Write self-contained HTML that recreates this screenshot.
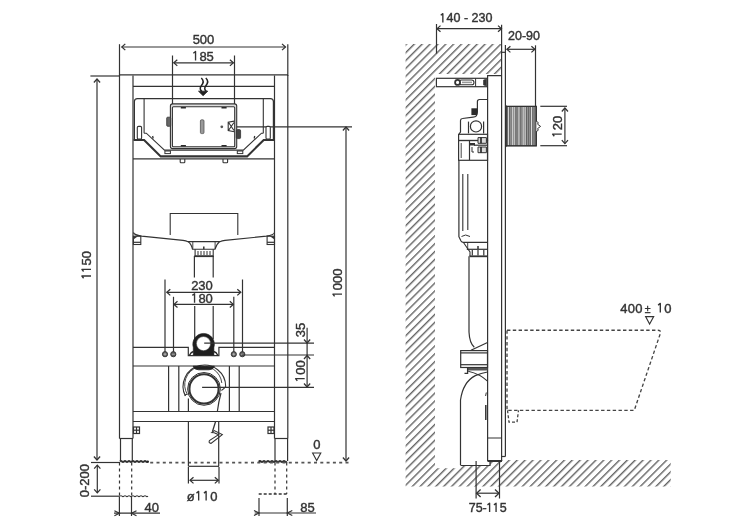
<!DOCTYPE html>
<html><head><meta charset="utf-8">
<style>
html,body{margin:0;padding:0;background:#fff;}
body{width:750px;height:530px;overflow:hidden;}
svg{display:block;will-change:transform;}
.o{fill-opacity:0;stroke-opacity:0;}
text{font-family:"Liberation Sans",sans-serif;fill:#333;stroke:#333;stroke-width:0.4px;}
</style></head><body>
<svg width="750" height="530" viewBox="0 0 750 530">
<defs>
<pattern id="hatch" patternUnits="userSpaceOnUse" width="5.560" height="10" patternTransform="rotate(45)">
<rect x="1.07" y="0" width="1.2" height="10" fill="#4a4a4a"/>
</pattern>
<marker id="ar" viewBox="-1 -1 7 9" refX="4" refY="3.5" markerWidth="7" markerHeight="9" orient="auto-start-reverse" markerUnits="userSpaceOnUse">
<path d="M0.5,0.4 L4,3.5 L0.5,6.6" fill="none" stroke="#333" stroke-width="1.25"/>
</marker>
<marker id="arL" viewBox="-1 -1 7 10" refX="4.5" refY="4" markerWidth="7" markerHeight="10" orient="auto-start-reverse" markerUnits="userSpaceOnUse">
<path d="M0.5,0.3 L4.5,4 L0.5,7.7" fill="none" stroke="#333" stroke-width="1.3"/>
</marker>
</defs>
<g fill="none" stroke="#333" stroke-width="1.2">
<!-- ===== LEFT FRONT VIEW ===== -->
<!-- 500 dim -->
<line x1="119.5" y1="44.2" x2="119.5" y2="76"/>
<line x1="287.8" y1="44.2" x2="287.8" y2="76"/>
<line x1="121.8" y1="47" x2="285.5" y2="47" marker-start="url(#ar)" marker-end="url(#ar)"/>
<!-- 185 dim -->
<line x1="172.5" y1="55.5" x2="172.5" y2="104"/>
<line x1="234.5" y1="55.5" x2="234.5" y2="104"/>
<line x1="173.8" y1="62.8" x2="233.4" y2="62.8" marker-start="url(#ar)" marker-end="url(#ar)"/>
<!-- frame -->
<line x1="119.5" y1="74.8" x2="288" y2="74.8"/>
<line x1="133" y1="86.3" x2="275" y2="86.3"/>
<line x1="119.5" y1="75" x2="119.5" y2="438.5" stroke-width="1.2"/>
<line x1="133" y1="75.5" x2="133" y2="438.5"/>
<line x1="274.5" y1="75.5" x2="274.5" y2="438.5"/>
<line x1="287.8" y1="75" x2="287.8" y2="438.5" stroke-width="1.2"/>
<line x1="119.5" y1="438.5" x2="133" y2="438.5"/>
<line x1="274.5" y1="438.5" x2="288" y2="438.5"/>
<!-- legs -->
<line x1="120.5" y1="438.5" x2="120.5" y2="461"/>
<line x1="132.3" y1="438.5" x2="132.3" y2="461"/>
<line x1="275" y1="438.5" x2="275" y2="461"/>
<line x1="287.6" y1="438.5" x2="287.6" y2="461"/>
<!-- foot plates -->
<path d="M120.0,461.6 q1.00,-0.90 2.00,0 q1.00,0.90 2.00,0 q1.00,-0.90 2.00,0 q1.00,0.90 2.00,0 q1.00,-0.90 2.00,0 q1.00,0.90 2.00,0 q1.00,-0.90 2.00,0 q1.00,0.90 2.00,0 q1.00,-0.90 2.00,0 q1.00,0.90 2.00,0 q1.00,-0.90 2.00,0 q1.00,0.90 2.00,0 q1.00,-0.90 2.00,0 q1.00,0.90 2.00,0" stroke-width="2"/><circle cx="147.8" cy="461.6" r="1.2" fill="#222" stroke="none"/>
<path d="M259.0,461.6 q1.00,-0.90 2.00,0 q1.00,0.90 2.00,0 q1.00,-0.90 2.00,0 q1.00,0.90 2.00,0 q1.00,-0.90 2.00,0 q1.00,0.90 2.00,0 q1.00,-0.90 2.00,0 q1.00,0.90 2.00,0 q1.00,-0.90 2.00,0 q1.00,0.90 2.00,0 q1.00,-0.90 2.00,0 q1.00,0.90 2.00,0 q1.00,-0.90 2.00,0 q1.00,0.90 2.00,0" stroke-width="2"/><circle cx="259.5" cy="461.6" r="1.1" fill="#222" stroke="none"/>
<!-- bottom crossbars -->
<line x1="133" y1="411.5" x2="274.5" y2="411.5"/>
<line x1="133" y1="421.5" x2="274.5" y2="421.5"/>
<!-- bolts -->
<rect x="133.5" y="427" width="6" height="6.5"/>
<line x1="133.5" y1="430.2" x2="139.5" y2="430.2"/>
<line x1="136.5" y1="427" x2="136.5" y2="433.5"/>
<rect x="268" y="427" width="6" height="6.5"/>
<line x1="268" y1="430.2" x2="274" y2="430.2"/>
<line x1="271" y1="427" x2="271" y2="433.5"/>
<!-- 1150 dim -->
<line x1="90.4" y1="76" x2="119.5" y2="76"/>
<line x1="97" y1="79" x2="97" y2="460" marker-start="url(#ar)" marker-end="url(#ar)"/>
<!-- floor line -->
<line x1="91" y1="462.5" x2="120" y2="462.5"/>
<line x1="150.2" y1="462.6" x2="350" y2="462.6" stroke-dasharray="3,3.3" stroke="#555" stroke-width="1.6"/>
<!-- 1000 dim -->
<line x1="228" y1="126.8" x2="352" y2="126.8"/>
<line x1="346" y1="127" x2="346" y2="461" marker-start="url(#ar)" marker-end="url(#ar)"/>
<!-- 0 level triangle -->
<path d="M312.6,453 L320.8,453 L316.7,460.5 Z" stroke-width="1.1"/>
<!-- 0-200 dim -->
<line x1="91" y1="496.2" x2="120" y2="496.2"/>
<path d="M120.0,496.2 q1.00,-0.90 2.00,0 q1.00,0.90 2.00,0 q1.00,-0.90 2.00,0 q1.00,0.90 2.00,0 q1.00,-0.90 2.00,0 q1.00,0.90 2.00,0 q1.00,-0.90 2.00,0 q1.00,0.90 2.00,0 q1.00,-0.90 2.00,0 q1.00,0.90 2.00,0 q1.00,-0.90 2.00,0 q1.00,0.90 2.00,0 q1.00,-0.90 2.00,0 q1.00,0.90 2.00,0" stroke-width="1.1"/>
<line x1="97.3" y1="465.2" x2="97.3" y2="492.8" marker-start="url(#ar)" marker-end="url(#ar)"/>
<line x1="119.5" y1="462.5" x2="119.5" y2="496" stroke-dasharray="3,3"/>
<line x1="131.7" y1="462.5" x2="131.7" y2="496" stroke-dasharray="3,3"/>
<!-- 40 dim -->
<line x1="119.4" y1="497" x2="119.4" y2="516"/>
<line x1="131.5" y1="497" x2="131.5" y2="516"/>
<line x1="114" y1="513.2" x2="160" y2="513.2"/>
<path d="M114.4,510.7 L119.4,513.2 L114.4,515.7" />
<path d="M136.5,510.7 L131.5,513.2 L136.5,515.7" />
<!-- 85 dim -->
<line x1="275" y1="462.5" x2="275" y2="494" stroke-dasharray="3,3"/>
<line x1="286.7" y1="462.5" x2="286.7" y2="494" stroke-dasharray="3,3"/>
<line x1="258.7" y1="494" x2="287" y2="494" stroke-dasharray="3,2" stroke-width="1.5"/>
<line x1="259" y1="498" x2="259" y2="516"/>
<line x1="287.3" y1="498" x2="287.3" y2="516"/>
<line x1="254.7" y1="513" x2="316" y2="513"/>
<path d="M254,510.5 L259,513 L254,515.5" />
<path d="M292.3,510.5 L287.3,513 L292.3,515.5" />
<!-- pipe 110 -->
<line x1="188.4" y1="466.3" x2="219" y2="466.3"/>
<line x1="188.4" y1="467" x2="188.4" y2="483.4"/>
<line x1="219" y1="467" x2="219" y2="483.4"/>
<line x1="190" y1="480.3" x2="218.3" y2="480.3" marker-start="url(#ar)" marker-end="url(#ar)"/>
<!-- hook -->
<path d="M215.6,421.5 L212.4,431.8" stroke-width="1.3"/>
<path d="M211.8,432.6 L214.2,430.6 L222.3,434.6 L211,443.4 Q208.3,443.2 209.4,440.6 L218.6,434.7 L214.2,432.7 Z" stroke-width="1.1" fill="#fff"/>
<!-- tank -->
<path d="M134.4,140 L134.4,101.6 Q134.4,98.6 137.4,98.6 L270.4,98.6 Q273.4,98.6 273.4,101.6 L273.4,140" stroke-width="1.2"/>
<line x1="144.1" y1="98.6" x2="144.1" y2="133.2" stroke-width="1.1"/>
<line x1="263.3" y1="98.6" x2="263.3" y2="133.2" stroke-width="1.1"/>
<path d="M144.1,133.2 L146.3,133.2 L164.5,150.1 L243.3,150.1 L261.5,133.2 L263.3,133.2" stroke-width="1.1" fill="#fff"/>
<path d="M133.5,140 L144.1,140 L160.7,156.4 L247.1,156.4 L263.7,140 L274,140" stroke-width="2.1"/>
<rect x="137.3" y="126.4" width="4.3" height="12.7" rx="1.2" stroke-width="1.1" fill="#fff"/>
<rect x="266" y="126.4" width="4.3" height="12.7" rx="1.2" stroke-width="1.1" fill="#fff"/>
<rect x="164.9" y="151" width="5.5" height="2.6" stroke-width="1"/>
<rect x="237.3" y="151" width="5.5" height="2.6" stroke-width="1"/>
<path d="M152.6,136 L153.2,138.5 M254.7,136 L254.2,138.5" stroke-width="1.3"/>
<line x1="133" y1="158.9" x2="274.5" y2="158.9"/>
<path d="M180.2,159 V162 Q180.2,162.8 181,162.8 H184 Q184.8,162.8 184.8,162 V159" stroke-width="1.1"/>
<path d="M223,159 V162 Q223,162.8 223.8,162.8 H226.8 Q227.6,162.8 227.6,162 V159" stroke-width="1.1"/>
<!-- plate -->
<rect x="170.4" y="103.9" width="66.3" height="44.7" rx="2.2" fill="#dedede" stroke-width="1.1"/>
<rect x="172.4" y="106.8" width="62.3" height="39.9" rx="1" fill="#fff" stroke-width="1.1"/>
<rect x="180.8" y="107" width="5.1" height="1.5" fill="#2a2a2a" stroke="none"/>
<rect x="221.5" y="107" width="5.1" height="1.5" fill="#2a2a2a" stroke="none"/>
<rect x="180.8" y="145" width="5.1" height="1.5" fill="#2a2a2a" stroke="none"/>
<rect x="221.5" y="145" width="5.1" height="1.5" fill="#2a2a2a" stroke="none"/>
<rect x="200.4" y="119.8" width="3.6" height="13.8" rx="1.2" fill="#999" stroke="#555" stroke-width="0.8"/>
<circle cx="221.8" cy="126.8" r="1.4" fill="#555" stroke="none"/>
<path d="M234.3,121.1 L228.2,122.1 L228.2,130.6 L234.3,131.7 M228.6,122.5 L234,130.5 M228.6,130.2 L234,122.5" stroke-width="1.1"/>
<rect x="166.7" y="117.2" width="4" height="9.1" rx="1" fill="#666" stroke="#333" stroke-width="0.8"/>
<rect x="236.3" y="129.6" width="4.3" height="9" rx="1.2" fill="#444" stroke="#333" stroke-width="0.8"/>
<!-- lower tank -->
<path d="M170.2,235.1 L170.2,213.5 L237.8,213.5 L237.8,235.1" stroke-width="1.1"/>
<path d="M133.4,232.5 Q134,235 141.6,236.2 L183,240.3 Q186,240.7 188,241.7 L219.8,241.7 Q222,240.7 225,240.3 L266.4,236.2 Q274,235 274.5,232.5" stroke-width="1.2"/>
<rect x="133.4" y="236.2" width="7.4" height="8.3" stroke-width="1.1"/>
<line x1="133.4" y1="242.3" x2="140.8" y2="242.3"/>
<path d="M133.4,236.2 L138,236.2 L133.4,239.5 Z" fill="#333" stroke="none"/>
<rect x="267.1" y="236.2" width="7.4" height="8.3" stroke-width="1.1"/>
<line x1="267.1" y1="242.3" x2="274.5" y2="242.3"/>
<path d="M274.5,236.2 L269.9,236.2 L274.5,239.5 Z" fill="#333" stroke="none"/>
<path d="M188.3,241.7 Q191.5,244 192.5,249.3 L215,249.3 Q216.5,244 219.5,241.7" stroke-width="1.1"/>
<path d="M192.8,242 L192.8,248.9 M215.1,242 L215.1,248.9" stroke-width="0.9"/>
<line x1="203.8" y1="246.5" x2="203.8" y2="249.3" stroke-width="1.5"/>
<path d="M195.1,249.3 L195.1,256.4 L213.2,256.4 L213.2,249.3" stroke-width="1.1"/>
<path d="M198,251 V255 M201,251 V255 M204,251 V255 M207,251 V255 M210,251 V255" stroke-width="1"/>
<line x1="194.4" y1="256.2" x2="213.4" y2="256.2" stroke-width="1.8"/>
<line x1="194.4" y1="256" x2="194.4" y2="277.6"/>
<line x1="213.2" y1="256" x2="213.2" y2="277.6"/>
<line x1="194.7" y1="306" x2="194.7" y2="339"/>
<line x1="213.2" y1="306" x2="213.2" y2="339"/>
<!-- 230/180 dims -->
<line x1="165" y1="279.5" x2="165" y2="352"/>
<line x1="242.5" y1="279.5" x2="242.5" y2="352"/>
<line x1="166.8" y1="292.3" x2="240.8" y2="292.3" marker-start="url(#ar)" marker-end="url(#ar)"/>
<line x1="173.5" y1="296.8" x2="173.5" y2="352"/>
<line x1="233.8" y1="296.8" x2="233.8" y2="352"/>
<line x1="174" y1="304.4" x2="233.3" y2="304.4" marker-start="url(#ar)" marker-end="url(#ar)"/>
<!-- crossbar -->
<path d="M133,347.3 L188.3,347.3 L188.3,355.6 L218.9,355.6 L218.9,347.3 L274.5,347.3"/>
<line x1="133" y1="366" x2="274.5" y2="366"/>
<g fill="#5a5a5a" stroke="#333" stroke-width="0.9">
<circle cx="165" cy="354.2" r="2.6"/>
<circle cx="173.3" cy="354.2" r="2.6"/>
<circle cx="233.8" cy="354.2" r="2.6"/>
<circle cx="242.3" cy="354.2" r="2.6"/>
</g>
<g stroke="#ccc" stroke-width="0.7">
<path d="M163.5,354.2 H166.5 M165,352.7 V355.7 M171.8,354.2 H174.8 M232.3,354.2 H235.3 M233.8,352.7 V355.7 M240.8,354.2 H243.8"/>
</g>
<!-- clamp -->
<path d="M193.3,355 L193.3,347.5 A10.8,10.8 0 1 1 213.9,347.5 L213.9,355 Z" fill="#1e1e1e" stroke="#1e1e1e" stroke-width="0.6"/>
<path d="M189.5,355.2 Q191,352 193.5,351.5 M217.8,355.2 Q216.3,352 213.7,351.5" stroke="#222" stroke-width="1.3"/>
<circle cx="203.5" cy="343.6" r="7.1" fill="#fff" stroke="#444" stroke-width="0.6"/>
<line x1="204.2" y1="343.1" x2="314" y2="343.1"/>
<line x1="242.3" y1="355" x2="314" y2="355"/>
<!-- vertical lines lower -->
<line x1="168.6" y1="366" x2="168.6" y2="411.5"/>
<line x1="178.8" y1="366" x2="178.8" y2="411.5"/>
<line x1="229.4" y1="366" x2="229.4" y2="411.5"/>
<line x1="239.2" y1="366" x2="239.2" y2="411.5"/>
<!-- pipe ring -->
<path d="M188.4,398.5 L188.4,411.8 M188.4,421.5 L188.4,466.3" />
<path d="M221,393 Q218.5,402 217.3,411.8 M218.7,421.5 L218.7,466.3"/>
<path d="M185.4,396 A21.3,21.3 0 1 1 225.7,386.5 Q224,389 221.4,390.5" stroke-width="1.1" fill="#fff"/>
<path d="M187.4,394.5 A18.6,18.6 0 1 1 221.8,383" stroke-width="0.9"/>
<path d="M185.4,396 Q184,394 187.4,394.5" stroke-width="1"/>
<circle cx="204" cy="388.9" r="16.4" stroke-width="1" fill="#fff"/>
<circle cx="204" cy="388.9" r="14.6" stroke-width="2.1"/>
<path d="M193.1,366.2 L214.4,366.2 Q213,369.8 209,369.8 L198.5,369.8 Q194.5,369.8 193.1,366.2 Z" fill="#222" stroke="#222" stroke-width="0.8"/>
<line x1="202.1" y1="387.3" x2="314" y2="387.3"/>
<!-- 35/100 dim -->
<line x1="307.1" y1="327.8" x2="307.1" y2="343" marker-end="url(#ar)"/><line x1="307.1" y1="343" x2="307.1" y2="355.5"/>
<line x1="307.1" y1="355.5" x2="307.1" y2="387" marker-start="url(#ar)" marker-end="url(#ar)"/>
</g>

<!-- ===== RIGHT SIDE VIEW ===== -->
<path d="M405.6,44 L501,44 L501,74 L435,74 L435,468.3 L460.5,468.3 L460.5,465 L490,465 L490,461.5 L501,461.5 L501,460 L670.7,460 L670.7,486.4 L405.6,486.4 Z" fill="url(#hatch)"/>
<g fill="none" stroke="#333" stroke-width="1.2">
<!-- 140-230 -->
<line x1="436.5" y1="24" x2="436.5" y2="53.6"/>
<line x1="501.6" y1="24.7" x2="501.6" y2="461"/>
<line x1="437" y1="28.7" x2="501.5" y2="28.7" marker-start="url(#ar)" marker-end="url(#ar)"/>
<!-- 20-90 -->
<line x1="505.4" y1="45" x2="505.4" y2="456.5" stroke-width="1.2"/>
<line x1="535.5" y1="45.3" x2="535.5" y2="106"/>
<line x1="506.9" y1="49.3" x2="534.9" y2="49.3" marker-start="url(#ar)" marker-end="url(#ar)"/>
<line x1="501.6" y1="52.3" x2="505.4" y2="52.3"/>
<!-- frame column -->
<path d="M487.6,438 L487.6,75.7 L501.6,75.7 M487.6,438 L501.6,438"/>
<line x1="487.6" y1="438" x2="487.6" y2="461"/>

<line x1="487.5" y1="461" x2="502" y2="461" stroke-width="2"/>
<line x1="501.6" y1="456.5" x2="505.4" y2="456.5"/>
<!-- level bracket -->
<rect x="436.4" y="78.3" width="50.9" height="8.4"/>
<rect x="459" y="80" width="15" height="4.8" rx="2.4" stroke-width="1.1"/>
<line x1="462" y1="82.4" x2="472" y2="82.4" stroke="#999" stroke-width="1.6"/>
<circle cx="457.6" cy="82.4" r="2.5" stroke-width="1.8" fill="#fff"/>
<line x1="475.6" y1="78.3" x2="475.6" y2="86.7" stroke-width="1"/>
<path d="M483.2,80 Q484,79 486.8,79 L486.8,86 Q484,86 483.2,85 Z" fill="#333" stroke="none"/>
<!-- button module -->
<rect x="506.1" y="106.4" width="30.2" height="39.4" fill="#9a9a9a" stroke="#333" stroke-width="1.1"/>
<g stroke="#4a4a4a" stroke-width="0.7"><line x1="507.5" y1="107" x2="507.5" y2="145.3"/><line x1="509.4" y1="107" x2="509.4" y2="145.3"/><line x1="511.3" y1="107" x2="511.3" y2="145.3"/><line x1="513.2" y1="107" x2="513.2" y2="145.3"/><line x1="515.1" y1="107" x2="515.1" y2="145.3"/><line x1="517.0" y1="107" x2="517.0" y2="145.3"/><line x1="518.9" y1="107" x2="518.9" y2="145.3"/><line x1="520.8" y1="107" x2="520.8" y2="145.3"/><line x1="522.7" y1="107" x2="522.7" y2="145.3"/><line x1="524.6" y1="107" x2="524.6" y2="145.3"/><line x1="526.5" y1="107" x2="526.5" y2="145.3"/><line x1="528.4" y1="107" x2="528.4" y2="145.3"/><line x1="530.3" y1="107" x2="530.3" y2="145.3"/><line x1="532.2" y1="107" x2="532.2" y2="145.3"/><line x1="534.1" y1="107" x2="534.1" y2="145.3"/><line x1="536.0" y1="107" x2="536.0" y2="145.3"/></g>
<g stroke="#f0f0f0" stroke-width="0.8"><line x1="508.4" y1="107" x2="508.4" y2="145.3"/><line x1="512.3" y1="107" x2="512.3" y2="145.3"/><line x1="514.2" y1="107" x2="514.2" y2="145.3"/><line x1="518.9" y1="107" x2="518.9" y2="145.3"/><line x1="523.1" y1="107" x2="523.1" y2="145.3"/><line x1="525.0" y1="107" x2="525.0" y2="145.3"/><line x1="531.5" y1="107" x2="531.5" y2="145.3"/></g>
<rect x="506.1" y="106.4" width="30.2" height="39.4" fill="none" stroke="#333" stroke-width="1.1"/>
<path d="M536.3,121.2 L538.3,122.6 L537.6,124.2 L540.6,126.4 L537.6,128.6 L538.3,130.2 L536.3,131.6" fill="#fff" stroke-width="1"/>
<path d="M505,103 L507,106.4 L505,106.4 Z M505,149 L507,145.8 L505,145.8 Z" fill="#333" stroke="none"/>
<!-- 120 dim -->
<line x1="540.3" y1="106.3" x2="567" y2="106.3"/>
<line x1="540.3" y1="145.7" x2="567" y2="145.7"/>
<line x1="564.9" y1="108" x2="564.9" y2="143.6" marker-start="url(#ar)" marker-end="url(#ar)"/>
<!-- mechanism -->
<path d="M487.5,99.5 L479.5,99.5 Q477.4,99.5 477.4,101.6 L477.4,112 Q477.4,117.1 473.1,117.1 L462.5,118.5 Q460.5,118.7 460.5,120.5 L460.5,132 L459.1,133.9" stroke-width="1.2"/>
<rect x="471.4" y="108.3" width="5.7" height="6.8" fill="#2a2a2a" stroke="none"/>
<circle cx="476" cy="126.4" r="5.6" stroke-width="1.2"/>
<line x1="468.5" y1="121.6" x2="468.5" y2="133.4"/>
<line x1="483.6" y1="121.6" x2="483.6" y2="133.4"/>
<rect x="458.6" y="134.3" width="28.9" height="6.2" stroke-width="1.2"/>
<rect x="458.6" y="140.5" width="28.9" height="19.8" stroke-width="1.2"/>
<line x1="469.5" y1="140.5" x2="469.5" y2="160"/>
<line x1="461.2" y1="143" x2="461.2" y2="158" stroke-width="0.9"/>
<path d="M474,145.2 L487.5,145.2" stroke-width="1.2"/>
<path d="M478,137.6 h8.4 v5.7 h-8.4 z M478,147 h8.4 v5.7 h-8.4 z" fill="#ddd" stroke-width="1"/>
<path d="M481,137.6 v5.7 M481,147 v5.7" stroke="#222" stroke-width="1.6"/>
<path d="M470,143 h5 v2.5 h-5 z" fill="#333" stroke="none"/>
<path d="M472,147 v5 h2" stroke-width="1"/>
<path d="M458.9,160.3 L458.9,236.7 L461,241 Q461.8,242.3 463.3,242.3 L487.5,242.3" stroke-width="1.2"/>
<path d="M462.8,174 V231 M467.8,174 V230" stroke-width="1.1"/>
<path d="M461.5,236.5 Q465.5,233.5 470,236.5" stroke-width="1"/>
<path d="M463.3,242.3 L466.7,247.3 L470,252 L470,256.3" stroke-width="1.1"/>
<line x1="467.7" y1="242.3" x2="467.7" y2="249.3" stroke-width="0.9"/>
<line x1="466.8" y1="249.3" x2="487.5" y2="249.3" stroke-width="1.2"/>
<line x1="478" y1="246" x2="478" y2="249" stroke-width="1.5"/>
<path d="M472.3,250 V255.5 M478,250 V255.5 M483.8,250 V255.5" stroke-width="1.2"/>
<line x1="469.5" y1="256.3" x2="487.5" y2="256.3" stroke-width="1.8"/>
<path d="M469,256.3 L469,332 Q469.5,343 474.3,347.3"/>
<rect x="460.7" y="350.6" width="26.8" height="16.9"/>
<line x1="460.7" y1="352.9" x2="487.5" y2="352.9"/>
<line x1="460.7" y1="364.7" x2="487.5" y2="364.7"/>
<line x1="471" y1="350.3" x2="487.5" y2="342.5"/>
<path d="M468,368 L487.5,368 L487.5,370.5 L468,370.5 Z" fill="#555" stroke="none"/>
<path d="M467.6,367.8 L467.6,373.3 L464.5,373.3" stroke-width="1.3"/>
<path d="M468.2,371.3 Q480,374 487.5,381.2" stroke-width="1.1"/>
<path d="M460.5,465 L460.5,400 Q463,382 475.3,375.6 Q481,373 487.5,372" stroke-width="1.2"/>
<path d="M486.3,392.5 L485.6,396" stroke-width="1"/>
<path d="M485.8,405 L485.8,420" stroke-width="1.5"/>
<path d="M460.5,465.5 L490,465.5 L490,461.5"/>
<line x1="476.1" y1="461" x2="476.1" y2="498.5"/>
<line x1="499.5" y1="461" x2="499.5" y2="498.5"/>
<line x1="476.6" y1="493.2" x2="499" y2="493.2" marker-start="url(#arL)" marker-end="url(#arL)"/>
<!-- toilet -->
<path d="M507,330.2 L658,330.2 Q661,330.2 660.5,333 L634.3,410.3 L507,410.3 Z" stroke-dasharray="3.4,2.4" stroke-width="1.35" stroke="#444"/>
<path d="M507.5,410.3 L509,422.2 L517,422.2 L518.5,410.3" stroke-dasharray="3,2" stroke-width="1.3" stroke="#444"/>
<path d="M645.6,316.6 L653.7,316.6 L649.6,324 Z" stroke-width="1.1"/>
</g>

<!-- ===== TEXT ===== -->
<g font-size="13">
<text x="203.5" y="43.6" text-anchor="middle">500</text>
<text x="203" y="60.6" text-anchor="middle"><tspan class="o">1</tspan>85</text>
<text x="202" y="289.9" text-anchor="middle">230</text>
<text x="202" y="302.8" text-anchor="middle"><tspan class="o">1</tspan>80</text>
<text x="202.5" y="500.5" text-anchor="middle" letter-spacing="0.75">ø<tspan class="o">1</tspan><tspan class="o">1</tspan>0</text>
<text x="151.8" y="512" text-anchor="middle">40</text>
<text x="307.4" y="511.6" text-anchor="middle">85</text>
<text x="316.8" y="448.8" text-anchor="middle">0</text>
<text x="466" y="22.4" text-anchor="middle" font-size="12.5"><tspan class="o">1</tspan>40 - 230</text>
<text x="524" y="39.6" text-anchor="middle" font-size="12.5">20-90</text>
<text x="487.7" y="512" text-anchor="middle" font-size="12.5">75-<tspan class="o">1</tspan><tspan class="o">1</tspan>5</text>
<text x="620.3" y="312.5" letter-spacing="0.3">400<tspan dx="1.8" font-size="10.5">±</tspan><tspan dx="6"><tspan class="o">1</tspan>0</tspan></text>
<text transform="translate(91,265) rotate(-90)" text-anchor="middle"><tspan class="o">1</tspan><tspan class="o">1</tspan>50</text>
<text transform="translate(342,283.1) rotate(-90)" text-anchor="middle"><tspan class="o">1</tspan>000</text>
<text transform="translate(89.1,480.7) rotate(-90)" text-anchor="middle">0-200</text>
<text transform="translate(304.7,330) rotate(-90)" text-anchor="middle">35</text>
<text transform="translate(304.7,371.2) rotate(-90)" text-anchor="middle"><tspan class="o">1</tspan>00</text>
<text transform="translate(561.7,126.6) rotate(-90)" text-anchor="middle"><tspan class="o">1</tspan>20</text>
</g>
<!-- flush arrow symbol -->
<g fill="none" stroke="#222" stroke-width="1.5">
<path d="M201.3,78 C203.5,80 203.5,83 201.5,85.5 C199.5,88 200,90 202,91.5"/>
<path d="M205.8,78 C208,80 208,83 206,85.5 C204,88 204.5,90 206.5,91.5"/>
</g>
<path d="M198.5,91.2 L207.8,91.2 L203.1,95.7 Z" fill="#222" stroke="#222" stroke-width="0.8"/>
<g id="ones" fill="none" stroke="#333" stroke-width="1.35" stroke-linejoin="round" stroke-linecap="butt">
<path d="M195.55,60.60 V51.50 L193.34,53.19"/>
<path d="M194.55,302.80 V293.70 L192.34,295.39"/>
<path d="M198.66,500.50 V491.40 L196.45,493.09"/>
<path d="M206.13,500.50 V491.40 L203.92,493.09"/>
<path d="M442.85,22.40 V13.65 L440.73,15.27"/>
<path d="M489.61,512.00 V503.25 L487.48,504.88"/>
<path d="M496.07,512.00 V503.25 L493.94,504.88"/>
<path d="M660.31,312.50 V303.40 L658.10,305.09"/>
<path transform="translate(91,265) rotate(-90)" d="M-11.04,0.00 V-9.10 L-13.25,-7.41"/>
<path transform="translate(91,265) rotate(-90)" d="M-4.32,0.00 V-9.10 L-6.53,-7.41"/>
<path transform="translate(342,283.1) rotate(-90)" d="M-11.07,0.00 V-9.10 L-13.28,-7.41"/>
<path transform="translate(304.7,371.2) rotate(-90)" d="M-7.45,0.00 V-9.10 L-9.66,-7.41"/>
<path transform="translate(561.7,126.6) rotate(-90)" d="M-7.45,0.00 V-9.10 L-9.66,-7.41"/>
</g>
</svg>
</body></html>
